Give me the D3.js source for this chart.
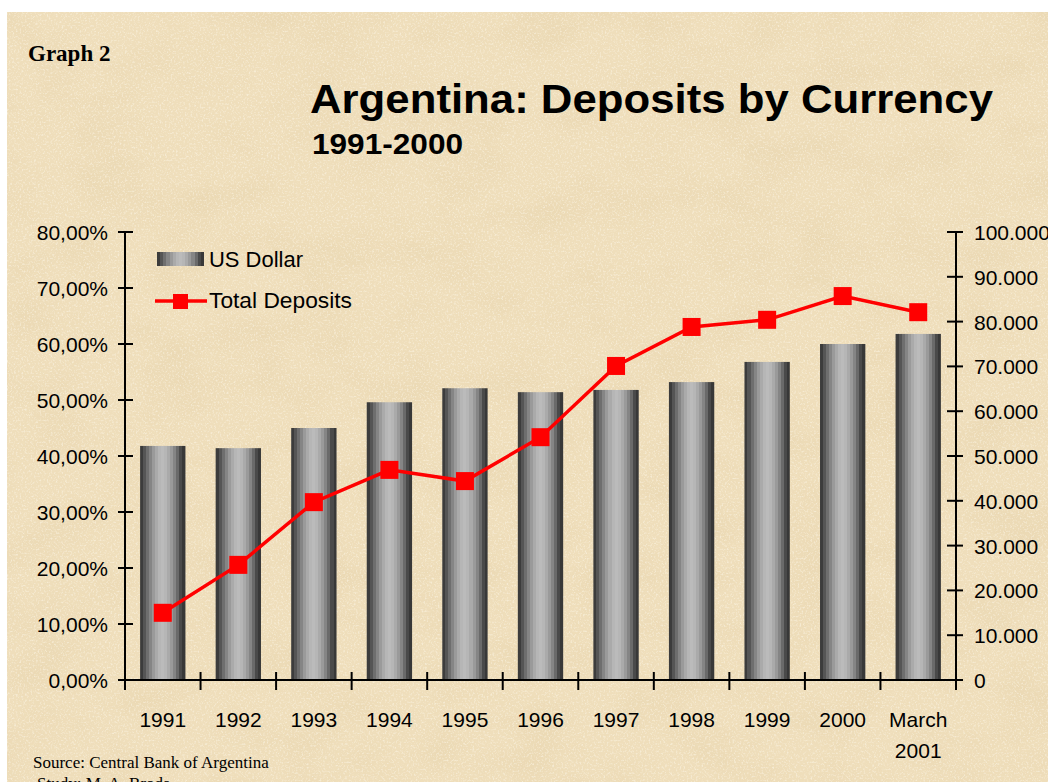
<!DOCTYPE html>
<html>
<head>
<meta charset="utf-8">
<script src="https://cdn.jsdelivr.net/npm/d3@7"></script>
<style>
  html, body { margin: 0; padding: 0; background: #fff; }
  svg { display: block; }
</style>
</head>
<body>
<svg id="chart" width="1048" height="782"></svg>
<script>
// data
var categories = ["1991", "1992", "1993", "1994", "1995", "1996", "1997", "1998", "1999", "2000", "March|2001"];
var usDollarShare = [41.8, 41.4, 45.0, 49.6, 52.1, 51.4, 51.8, 53.2, 56.8, 60.0, 61.8];   // % of deposits
var totalDeposits = [15000, 25700, 39700, 46900, 44400, 54200, 70100, 78800, 80400, 85700, 82100];
var leftTicks = [0, 10, 20, 30, 40, 50, 60, 70, 80];
var rightTicks = [0, 10000, 20000, 30000, 40000, 50000, 60000, 70000, 80000, 90000, 100000];

var SANS = "'Liberation Sans', Arial, sans-serif";
var SERIF = "'Liberation Serif', 'Times New Roman', serif";

var svg = d3.select("#chart");
var defs = svg.append("defs");

// parchment background: soft mottling plus fine speckle
var paper = defs.append("filter").attr("id", "paper").attr("x", 0).attr("y", 0).attr("width", 1).attr("height", 1);
paper.append("feTurbulence").attr("type", "fractalNoise").attr("baseFrequency", "0.014 0.022").attr("numOctaves", 4).attr("seed", 7).attr("result", "noise");
paper.append("feColorMatrix").attr("in", "noise").attr("type", "matrix")
  .attr("values", "0 0 0 0 0.80  0 0 0 0 0.66  0 0 0 0 0.42  0 0 0 -1.8 1.05").attr("result", "tint");
paper.append("feComposite").attr("in", "tint").attr("in2", "SourceGraphic").attr("operator", "in");

var speck = defs.append("filter").attr("id", "speck").attr("x", 0).attr("y", 0).attr("width", 1).attr("height", 1);
speck.append("feTurbulence").attr("type", "fractalNoise").attr("baseFrequency", 0.55).attr("numOctaves", 2).attr("seed", 3).attr("result", "noise");
speck.append("feColorMatrix").attr("in", "noise").attr("type", "matrix")
  .attr("values", "0 0 0 0 0.99  0 0 0 0 0.95  0 0 0 0 0.84  0 0 0 3.2 -1.6").attr("result", "tint");
speck.append("feComposite").attr("in", "tint").attr("in2", "SourceGraphic").attr("operator", "in");

svg.append("rect").attr("x", 7).attr("y", 12).attr("width", 1041).attr("height", 770).attr("fill", "#efdebb");
svg.append("rect").attr("x", 7).attr("y", 12).attr("width", 1041).attr("height", 770).attr("fill", "#efdebb").attr("filter", "url(#paper)").attr("opacity", 0.6);
svg.append("rect").attr("x", 7).attr("y", 12).attr("width", 1041).attr("height", 770).attr("fill", "#efdebb").attr("filter", "url(#speck)").attr("opacity", 0.5);

// stepped grey gradient for the cylinder bars
var grad = defs.append("linearGradient").attr("id", "barGrad").attr("x1", 0).attr("x2", 1).attr("y1", 0).attr("y2", 0);
var bands = ["#3c3c3c", "#555", "#6e6e6e", "#858585", "#9a9a9a", "#aaa", "#b6b6b6", "#bbb", "#b6b6b6", "#aaa", "#9a9a9a", "#858585", "#6a6a6a", "#4a4a4a", "#383838"];
bands.forEach(function (c, i) {
  grad.append("stop").attr("offset", i / bands.length).attr("stop-color", c);
  grad.append("stop").attr("offset", (i + 1) / bands.length).attr("stop-color", c);
});

var plotLeft = 125, plotRight = 956, plotTop = 232, plotBottom = 680;

var x = d3.scaleBand().domain(categories).range([plotLeft, plotRight]).paddingInner(0.4).paddingOuter(0.2);
var xTick = d3.scaleLinear().domain([0, categories.length]).range([plotLeft, plotRight]);
var yL = d3.scaleLinear().domain([0, 80]).range([plotBottom, plotTop]);
var yR = d3.scaleLinear().domain([0, 100000]).range([plotBottom, plotTop]);

// bars
svg.append("g").selectAll("rect").data(usDollarShare).enter().append("rect")
  .attr("x", function (d, i) { return x(categories[i]); })
  .attr("width", x.bandwidth())
  .attr("y", function (d) { return yL(d); })
  .attr("height", function (d) { return yL(0) - yL(d); })
  .attr("fill", "url(#barGrad)");

// axes
var axes = svg.append("g").attr("stroke", "#000").attr("stroke-width", 2);
axes.append("line").attr("x1", plotLeft).attr("x2", plotLeft).attr("y1", plotTop).attr("y2", plotBottom + 10);
axes.append("line").attr("x1", plotRight).attr("x2", plotRight).attr("y1", plotTop).attr("y2", plotBottom + 10);
axes.append("line").attr("x1", plotLeft).attr("x2", plotRight).attr("y1", plotBottom).attr("y2", plotBottom);

axes.selectAll(".lt").data(leftTicks).enter().append("line")
  .attr("x1", plotLeft - 7).attr("x2", plotLeft + 8)
  .attr("y1", function (d) { return yL(d); }).attr("y2", function (d) { return yL(d); });
axes.selectAll(".rt").data(rightTicks).enter().append("line")
  .attr("x1", plotRight - 9).attr("x2", plotRight + 7)
  .attr("y1", function (d) { return yR(d); }).attr("y2", function (d) { return yR(d); });
axes.selectAll(".xt").data(d3.range(1, categories.length)).enter().append("line")
  .attr("x1", function (d) { return xTick(d); }).attr("x2", function (d) { return xTick(d); })
  .attr("y1", plotBottom - 8).attr("y2", plotBottom + 10);

var fmtPct = function (d) { return d3.format(".2f")(d).replace(".", ",") + "%"; };
var fmtNum = function (d) { return d === 0 ? "0" : d3.format(",")(d).replace(/,/g, "."); };

svg.append("g").selectAll("text").data(leftTicks).enter().append("text")
  .attr("x", plotLeft - 17).attr("y", function (d) { return yL(d) + 8; })
  .attr("text-anchor", "end").style("font-family", SANS).attr("font-size", 21).text(fmtPct);
svg.append("g").selectAll("text").data(rightTicks).enter().append("text")
  .attr("x", plotRight + 18).attr("y", function (d) { return yR(d) + 8; })
  .style("font-family", SANS).attr("font-size", 21).text(fmtNum);

var xl = svg.append("g").selectAll("text").data(categories).enter().append("text")
  .attr("x", function (d) { return x(d) + x.bandwidth() / 2; })
  .attr("y", 727).attr("text-anchor", "middle").style("font-family", SANS).attr("font-size", 21);
xl.each(function (d) {
  var parts = d.split("|");
  var t = d3.select(this);
  parts.forEach(function (p, i) {
    t.append("tspan").attr("x", t.attr("x")).attr("dy", i === 0 ? 0 : 31).text(p);
  });
});

// total deposits line
var cx = function (i) { return x(categories[i]) + x.bandwidth() / 2; };
svg.append("path").datum(totalDeposits)
  .attr("fill", "none").attr("stroke", "#ff0000").attr("stroke-width", 3.5)
  .attr("d", d3.line().x(function (d, i) { return cx(i); }).y(function (d) { return yR(d); }));
svg.append("g").selectAll("rect").data(totalDeposits).enter().append("rect")
  .attr("x", function (d, i) { return cx(i) - 9; })
  .attr("y", function (d) { return yR(d) - 9; })
  .attr("width", 18).attr("height", 18).attr("fill", "#ff0000");

// legend
var lg = svg.append("g");
lg.append("rect").attr("x", 157).attr("y", 252).attr("width", 47).attr("height", 14).attr("fill", "url(#barGrad)");
lg.append("text").attr("x", 209).attr("y", 267).style("font-family", SANS).attr("font-size", 22)
  .attr("textLength", 94).attr("lengthAdjust", "spacingAndGlyphs").text("US Dollar");
lg.append("line").attr("x1", 155).attr("x2", 207).attr("y1", 301).attr("y2", 301).attr("stroke", "#ff0000").attr("stroke-width", 3.5);
lg.append("rect").attr("x", 173).attr("y", 294).attr("width", 15).attr("height", 15).attr("fill", "#ff0000");
lg.append("text").attr("x", 209).attr("y", 308).style("font-family", SANS).attr("font-size", 22)
  .attr("textLength", 143).attr("lengthAdjust", "spacingAndGlyphs").text("Total Deposits");

// titles
svg.append("text").attr("x", 28).attr("y", 61).style("font-family", SERIF)
  .attr("font-weight", "bold").attr("font-size", 23).text("Graph 2");
svg.append("text").attr("x", 310).attr("y", 113).style("font-family", SANS).attr("font-weight", "bold").attr("font-size", 41)
  .attr("textLength", 683).attr("lengthAdjust", "spacingAndGlyphs").text("Argentina: Deposits by Currency");
svg.append("text").attr("x", 312).attr("y", 154).style("font-family", SANS).attr("font-weight", "bold").attr("font-size", 29)
  .attr("textLength", 151).attr("lengthAdjust", "spacingAndGlyphs").text("1991-2000");

svg.append("text").attr("x", 33).attr("y", 768).style("font-family", SERIF)
  .attr("font-size", 17).text("Source: Central Bank of Argentina");
svg.append("text").attr("x", 37).attr("y", 789).style("font-family", SERIF)
  .attr("font-size", 17).text("Study: M. A. Broda");
</script>
</body>
</html>
